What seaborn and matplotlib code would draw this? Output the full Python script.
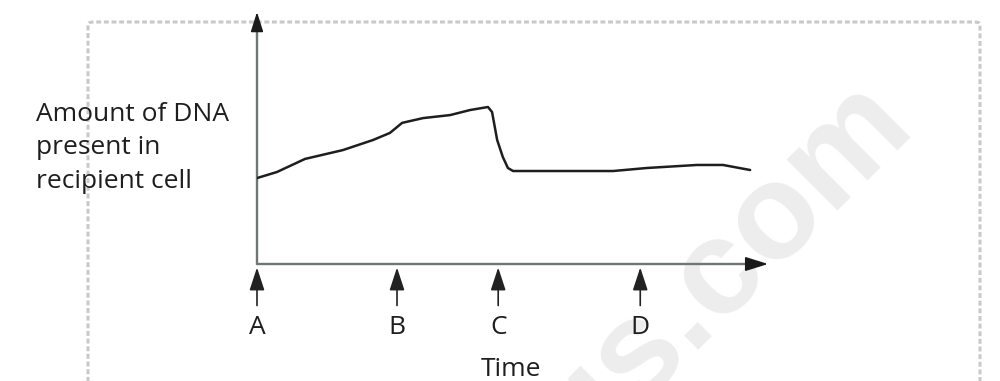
import matplotlib
matplotlib.use("Agg")
import matplotlib.pyplot as plt
import seaborn as sns
import pandas as pd
from matplotlib.patches import FancyBboxPatch

# ---- data ----
time_vals = [0, 3.9, 9.4, 16.8, 22.7, 26.0, 28.4, 32.5, 37.8, 41.7, 45.2, 46.0,
             47.0, 48.1, 49.1, 50.1, 69.7, 76.3, 86.1, 91.2, 96.5]
dna_vals = [34.1, 36.5, 41.7, 45.2, 49.2, 52.0, 56.0, 57.9, 59.1, 61.1, 62.3, 60.3,
            49.2, 42.5, 38.1, 36.9, 36.9, 38.1, 39.3, 39.3, 37.3]
tick_pos = [0, 27.4, 47.2, 75.0]
tick_labels = ["A", "B", "C", "D"]
y_label = "Amount of DNA\npresent in\nrecipient cell"
x_label = "Time"
watermark = "byjus.com"

df = pd.DataFrame({"Time": time_vals, "DNA": dna_vals})

sns.set_theme(style="white")
plt.rcParams["font.family"] = ["Open Sans", "DejaVu Sans"]

W, H = 1000, 381
fig = plt.figure(figsize=(W / 100, H / 100), dpi=100)
fig.patch.set_facecolor("white")

# watermark
fig.text(915 / W, 1 - 125 / H, watermark, rotation=45, rotation_mode="anchor",
         ha="right", va="baseline", fontsize=98, fontweight="bold",
         family="Liberation Sans", color="#ededed", zorder=-2)

# dashed rounded box
box = FancyBboxPatch((88 / W, -0.1), (980 - 88) / W, 1.1 - 22 / H,
                     boxstyle="round,pad=0,rounding_size=0.006",
                     transform=fig.transFigure, fill=False, edgecolor="#c9c9c9",
                     linewidth=2.2, linestyle=(0, (1.6, 0.9)), zorder=-1)
fig.patches.append(box)

left, right, top, bottom = 257, 768, 12, 264
ax = fig.add_axes([left / W, 1 - bottom / H, (right - left) / W, (bottom - top) / H])
ax.set_facecolor("none")
ax.set_zorder(1)
ax.set_xlim(0, 100)
ax.set_ylim(0, 100)
for s in ax.spines.values():
    s.set_visible(False)

sns.lineplot(data=df, x="Time", y="DNA", ax=ax, color="#1e1e1e", linewidth=1.8,
             sort=False, zorder=5)

axis_col = "#6e7676"
# axis lines
ax.annotate("", xy=(0, 0.96), xytext=(0, 0), xycoords="axes fraction",
            arrowprops=dict(arrowstyle="-", color=axis_col, lw=1.7,
                            shrinkA=0, shrinkB=0), annotation_clip=False)
ax.annotate("", xy=(0.975, 0), xytext=(0, 0), xycoords="axes fraction",
            arrowprops=dict(arrowstyle="-", color=axis_col, lw=1.7,
                            shrinkA=0, shrinkB=0), annotation_clip=False)
# arrowheads
ax.annotate("", xy=(0, 1), xytext=(0, 0.93), xycoords="axes fraction",
            arrowprops=dict(arrowstyle="-|>,head_length=12,head_width=3.8",
                            mutation_scale=1, color="#1a1a1a", lw=1.2,
                            shrinkA=0, shrinkB=0), annotation_clip=False)
ax.annotate("", xy=(1, 0), xytext=(0.96, 0), xycoords="axes fraction",
            arrowprops=dict(arrowstyle="-|>,head_length=14,head_width=4.4",
                            mutation_scale=1, color="#1a1a1a", lw=1.2,
                            shrinkA=0, shrinkB=0), annotation_clip=False)

# tick arrows pointing up at the axis
for t in tick_pos:
    ax.annotate("", xy=(t, -3.5 / (bottom - top)), xycoords=("data", "axes fraction"),
                xytext=(0, -38), textcoords="offset pixels",
                arrowprops=dict(arrowstyle="-|>,head_length=14,head_width=4.6",
                                mutation_scale=1, color="#222222", lw=1.2,
                                shrinkA=0, shrinkB=0), annotation_clip=False)

ax.set_xticks(tick_pos, tick_labels)
ax.set_yticks([])
ax.tick_params(axis="x", length=0, pad=37, labelsize=19, labelcolor="#1e1e1e")

ax.set_xlabel(x_label, fontsize=19, color="#1e1e1e")
ax.xaxis.set_label_coords((511 - left) / (right - left), -(369 - bottom) / (bottom - top))
ax.xaxis.label.set_va("center")

ax.set_ylabel(y_label, fontsize=19, color="#1e1e1e", rotation=0, ha="left",
              va="center", linespacing=1.45)
ax.yaxis.set_label_coords(-(left - 36) / (right - left), (bottom - 148) / (bottom - top))

fig.savefig("out.png", dpi=100, facecolor="white")
